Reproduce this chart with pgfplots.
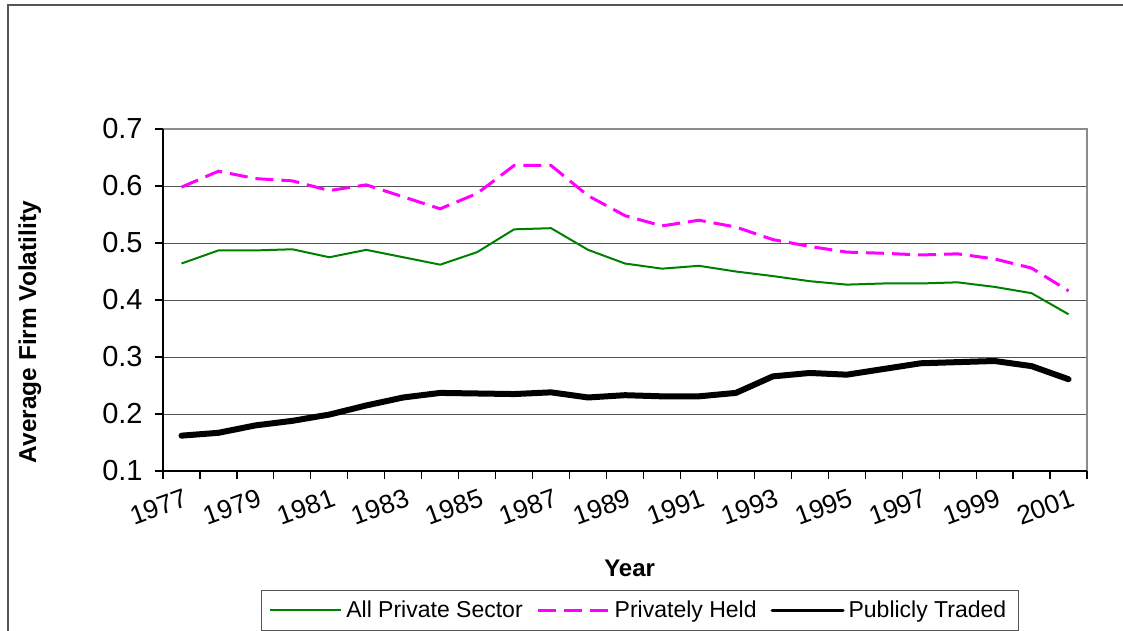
\documentclass[border=0pt]{standalone}
\usepackage{fontspec}
\setmainfont{Liberation Sans}
\usepackage{pgfplots}
\usepackage{pgfplotstable}
\pgfplotsset{compat=1.18}

\definecolor{grn}{RGB}{0,128,0}
\definecolor{mag}{RGB}{255,0,255}
\definecolor{grd}{RGB}{85,85,85}
\definecolor{bord}{RGB}{140,140,140}

\pgfplotstableread{
x year allpriv privheld pubtraded
0 1977 0.464 0.598 0.162
1 1978 0.487 0.626 0.167
2 1979 0.487 0.613 0.180
3 1980 0.489 0.609 0.188
4 1981 0.475 0.592 0.199
5 1982 0.488 0.602 0.215
6 1983 0.475 0.581 0.229
7 1984 0.462 0.560 0.237
8 1985 0.484 0.587 0.236
9 1986 0.524 0.636 0.235
10 1987 0.526 0.636 0.238
11 1988 0.488 0.583 0.229
12 1989 0.464 0.548 0.233
13 1990 0.455 0.530 0.231
14 1991 0.460 0.540 0.231
15 1992 0.450 0.528 0.237
16 1993 0.442 0.506 0.266
17 1994 0.433 0.494 0.272
18 1995 0.427 0.484 0.269
19 1996 0.429 0.482 0.279
20 1997 0.429 0.479 0.289
21 1998 0.431 0.481 0.291
22 1999 0.423 0.472 0.293
23 2000 0.412 0.456 0.284
24 2001 0.375 0.416 0.261
}\datatable

\begin{document}
\begin{tikzpicture}
\useasboundingbox (-81.5pt,-80pt) rectangle (480pt,235.5pt);
\draw[grd, line width=0.7pt] (-77.5pt,-90pt) -- (-77.5pt,233pt) -- (500pt,233pt);
\begin{axis}[
  name=ax,
  at={(0pt,0pt)}, anchor=south west,
  scale only axis, width=462pt, height=171pt,
  xmin=-0.5, xmax=24.5, ymin=0.1, ymax=0.7,
  axis line style={draw=none},
  xtick pos=bottom, ytick pos=left,
  ytick={0.1,0.2,0.3,0.4,0.5,0.6,0.7},
  minor ytick={0.1,0.2,0.3,0.4,0.5,0.6,0.7},
  /pgf/number format/fixed, /pgf/number format/fixed zerofill, /pgf/number format/precision=1, /pgf/number format/assume math mode=true,
  yticklabel style={anchor=east, inner sep=0pt, xshift=-10pt, font=\fontsize{14.5}{16}\selectfont},
  xtick={0,2,...,24},
  minor xtick={-0.5,0.5,...,24.5},
  xticklabels={1977,1979,1981,1983,1985,1987,1989,1991,1993,1995,1997,1999,2001},
  xticklabel style={rotate=20, anchor=north east, inner sep=0pt, xshift=-2pt, yshift=-8pt, font=\fontsize{13.2}{15}\selectfont},
  tick align=outside, major tick length=0pt, minor tick length=4pt,
  tick style={black, line width=0.6pt},
  ymajorgrids, grid style={grd, line width=0.5pt},
  xlabel={Year},
  xlabel style={at={(axis description cs:0.505,-0.284)}, anchor=center, font=\bfseries\fontsize{12}{14}\selectfont},
  ylabel={Average Firm Volatility},
  ylabel style={at={(axis description cs:-0.144,0.406)}, anchor=center, font=\bfseries\fontsize{12.2}{14}\selectfont},
  legend columns=3,
  legend style={at={(axis description cs:0.516,-0.348)}, anchor=north, draw=grd, line width=0.5pt,
    font=\fontsize{11.5}{13}\selectfont, inner xsep=4pt, inner ysep=2pt,
    /tikz/every even column/.append style={column sep=5pt},
    nodes={inner xsep=2pt, inner ysep=3pt}},
  legend image code/.code={\draw[#1] (0pt,0pt) -- (35.5pt,0pt);},
]
\addplot[grn, line width=1pt] table[x=x, y=allpriv] {\datatable};
\addlegendentry{All Private Sector}
\addplot[mag, line width=1.5pt, dash pattern=on 9pt off 4pt] table[x=x, y=privheld] {\datatable};
\addlegendentry{Privately Held}
\addplot[black, line width=3pt, line cap=round, line join=round,
  legend image code/.code={\draw[black, line width=1.5pt] (0pt,0pt) -- (35.5pt,0pt);}] table[x=x, y=pubtraded] {\datatable};
\addlegendentry{Publicly Traded}
\end{axis}
\draw[bord, line width=1.2pt] (ax.north west) -- (ax.north east) -- (ax.south east);
\draw[black, line width=0.8pt] (ax.north west) -- (ax.south west) -- (ax.south east);
\end{tikzpicture}
\end{document}
